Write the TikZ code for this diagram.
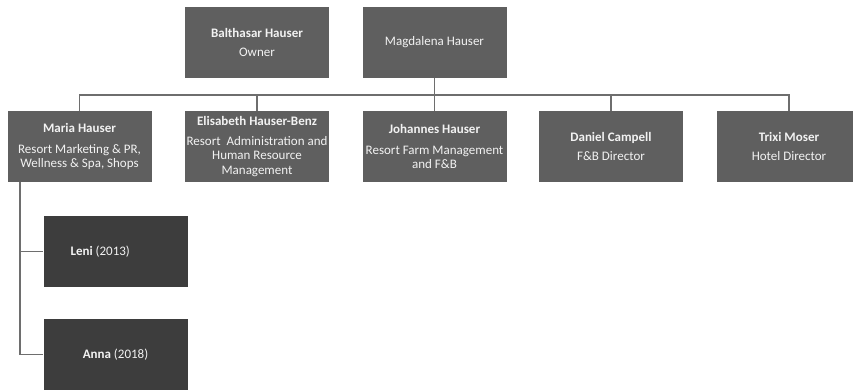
\documentclass[tikz,border=0pt]{standalone}
\usepackage{fontspec}
\setmainfont{Carlito}
\definecolor{boxgray}{HTML}{5F5F5F}
\definecolor{boxdark}{HTML}{3D3D3D}
\definecolor{linegray}{HTML}{6E6E6E}
\definecolor{txt}{HTML}{F2F2F2}
\begin{document}
\begin{tikzpicture}[x=1pt,y=1pt,
  person/.style={fill=boxgray, draw=none, minimum width=144pt, minimum height=71pt,
    inner sep=0pt, text=txt, align=center, font=\fontsize{13}{14.5}\selectfont},
  childbox/.style={person, fill=boxdark},
  conn/.style={draw=linegray, line width=1.6pt}]
\useasboundingbox (0,0) rectangle (853,390);
\clip (0,0) rectangle (853,390);
\fill[white] (0,0) rectangle (853,390);
% top row
\node[person] (balt) at (257,347.5) {\textbf{Balthasar Hauser}\\[5pt]Owner};
\node[person] (magd) at (434.5,347.5) {Magdalena Hauser};
% second row
\node[person] (maria) at (79.5,243.5) {\textbf{Maria Hauser}\\[6pt]Resort Marketing \& PR,\\Wellness \& Spa, Shops};
\node[person] (elis) at (257,243.5) {\textbf{Elisabeth Hauser-Benz}\\[5pt]Resort\ \ Administration and\\Human Resource\\Management};
\node[person] (joh) at (434.5,243.5) {\textbf{Johannes Hauser}\\[6pt]Resort Farm Management\\and F\&B};
\node[person] (dan) at (611,243.5) {\textbf{Daniel Campell}\\[5pt]F\&B Director};
\node[person] (trixi) at (789,243.5) {\textbf{Trixi Moser}\\[5pt]Hotel Director};
% children
\node[childbox] (leni) at (115.5,138.5) {\makebox[90pt][l]{\textbf{Leni} (2013)}};
\node[childbox] (anna) at (115.5,35.5) {\textbf{Anna} (2018)};
% connectors
\coordinate (bus) at (0,295);
\coordinate (kid) at (20,208);
\draw[conn] (magd.south) -- (joh.north);
\draw[conn] (maria.north) |- (bus -| trixi.north) -- (trixi.north);
\draw[conn] (elis.north) -- (elis.north |- bus);
\draw[conn] (dan.north) -- (dan.north |- bus);
\draw[conn] (kid) |- (anna.west);
\draw[conn] (kid |- leni.west) -- (leni.west);
\end{tikzpicture}
\end{document}
